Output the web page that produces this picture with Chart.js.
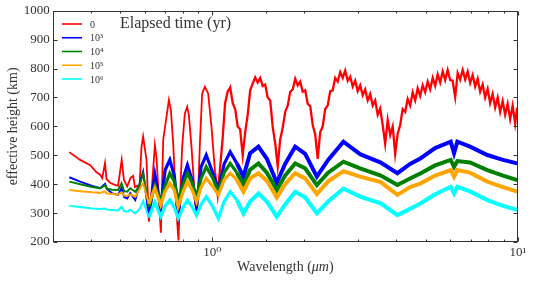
<!DOCTYPE html>
<html><head><meta charset="utf-8">
<script src="https://cdn.jsdelivr.net/npm/chart.js@4/dist/chart.umd.min.js"></script>
<style>html,body{margin:0;padding:0;background:#fff;}#wrap{position:relative;width:534px;height:281px;}</style>
</head><body><div id="wrap"><canvas id="c" width="534" height="281"></canvas></div>
<script>
// ---- data ----
const seriesLabels = ['0', '10\u00b3', '10\u2074', '10\u2075', '10\u2076'];
const seriesColors = ['#ff0000', '#0000ff', '#008000', '#ffa500', '#00ffff'];
const chartTitle = 'Elapsed time (yr)';
const yTitle = 'effective height (km)';
const yTickValues = [200, 300, 400, 500, 600, 700, 800, 900, 1000];

// red curve (elapsed time 0): wavelength (um) and effective height (km)
const wlRed = [0.340,0.369,0.398,0.4165,0.429,0.4357,0.445,0.450,0.4637,0.4816,0.491,0.5046,0.513,0.526,0.5392,0.5502,0.5573,0.5671,0.577,0.5857,
0.593,0.6083,0.6194,0.6317,0.648,0.6559,0.6679,0.678,0.6898,0.7072,0.7201,0.731,0.7438,0.7568,0.7683,0.7741,0.7823,0.7959,0.8122,0.8265,
0.8371,0.8537,0.8712,0.887,0.8979,0.9096,0.9254,0.9443,0.9681,0.9925,
1.020,1.040,1.060,1.080,1.100,1.121,1.143,1.165,1.187,1.209,1.232,1.256,1.280,1.304,1.329,1.354,1.380,1.406,1.433,1.460,
1.488,1.516,1.545,1.574,1.605,1.635,1.666,1.698,1.730,1.763,1.797,1.831,1.866,1.901,1.937,1.974,2.012,2.050,2.089,2.129,
2.169,2.210,2.252,2.295,2.339,2.383,2.429,2.475,2.522,2.570,2.619,2.669,2.719,2.771,2.824,2.878,2.932,2.988,3.045,3.103,
3.161,3.222,3.283,3.345,3.409,3.474,3.540,3.607,3.675,3.746,3.817,3.890,3.963,4.039,4.115,4.193,4.273,4.354,4.437,4.522,
4.608,4.695,4.785,4.876,4.968,5.062,5.159,5.257,5.357,5.459,5.563,5.669,5.776,5.886,5.998,6.112,6.228,6.347,6.467,6.590,
6.716,6.844,6.973,7.106,7.241,7.379,7.519,7.662,7.808,7.956,8.107,8.261,8.419,8.579,8.742,8.908,9.077,9.250,9.426,9.605,
9.788,9.94];
const hRed = [511,484,466,442,433,421,473,418,404,397,395,484,415,392,422,429,390,395,390,528,
565,484,270,372,535,493,345,232,553,633,691,657,542,369,253,205,340,530,645,668,
640,530,391,288,372,540,714,737,714,599,
440,365,460,560,680,720,735,680,660,600,590,500,580,640,725,748,770,752,768,740,
745,700,690,600,540,462,555,595,650,672,720,728,765,742,755,720,725,678,670,605,
572,488,580,600,660,672,722,725,768,755,788,768,793,758,772,738,758,722,742,708,
728,690,712,672,690,640,662,605,540,622,570,600,505,575,605,660,650,695,672,718,
690,732,705,742,718,755,728,768,740,780,752,790,760,795,760,758,702,785,762,795,
762,790,750,778,738,765,720,745,700,730,680,712,665,700,650,688,640,678,625,672,
610,665];

// the four later curves share one wavelength grid (um)
const wlLater = [0.340,0.369,0.404,0.429,0.445,0.452,0.470,0.491,0.504,0.514,0.526,0.538,0.559,0.579,0.593,0.619,0.648,0.677,0.700,0.725,
0.750,0.772,0.802,0.828,0.858,0.887,0.918,0.954,0.998,1.046,1.092,1.143,1.202,1.263,1.328,1.414,1.507,1.624,1.729,1.865,
2.011,2.196,2.391,2.683,3.042,3.556,4.030,4.434,4.806,5.353,6.024,6.176,6.330,6.966,7.935,8.932,9.948];
const h1e3 = [424,409,394,386,401,383,368,363,387,356,351,369,345,405,443,288,432,322,449,484,
430,299,420,466,414,322,460,501,445,380,470,512,472,426,507,530,488,405,470,530,
505,426,484,547,504,475,438,470,490,525,547,507,547,530,501,484,472];
const h1e4 = [409,400,390,386,396,384,381,380,403,376,374,386,374,400,438,322,395,340,395,438,
410,345,400,438,405,357,420,460,425,374,440,472,440,397,450,472,440,380,430,472,
455,397,440,478,455,430,397,420,438,465,484,460,480,475,449,430,414];
const h1e5 = [380,376,372,370,375,368,366,364,372,361,359,365,357,385,403,332,386,328,375,403,
380,322,375,409,380,339,390,420,395,363,415,438,415,374,420,438,412,354,400,438,
420,366,410,445,426,407,363,390,403,430,449,426,449,440,409,390,374];
const h1e6 = [325,321,316,314,316,312,311,309,322,307,305,312,299,316,342,285,338,288,325,345,
320,282,320,345,322,293,330,357,325,282,340,374,345,299,340,368,340,288,330,374,
355,299,340,385,357,334,293,315,334,365,391,368,391,375,345,325,311];

// ---- chart ----
const SERIF = "'Liberation Serif', 'DejaVu Serif', serif";
const TXT = '#333333';
const pts = (xs, ys) => xs.map((x, i) => ({x: x, y: ys[i]}));
const allH = [hRed, h1e3, h1e4, h1e5, h1e6];
const allW = [wlRed, wlLater, wlLater, wlLater, wlLater];

const widthRed = c => (c.p0.parsed.x > 1.0 ? 2.3 : 1.8);
const widthLater = c => (c.p0.parsed.x > 1.2 ? 4 : (c.p0.parsed.x > 0.6 ? 3.2 : 2));

const datasets = allH.map((h, i) => ({
  label: seriesLabels[i],
  data: pts(allW[i], h),
  borderColor: seriesColors[i],
  backgroundColor: seriesColors[i],
  borderWidth: 2,
  pointRadius: 0,
  tension: 0,
  order: 4 - i,
  segment: { borderWidth: i === 0 ? widthRed : widthLater }
}));

const isMajorX = v => Math.abs(v - 1) < 1e-9 || Math.abs(v - 10) < 1e-9;

const decor = {
  id: 'decor',
  afterDatasetsDraw(chart) {
    const {ctx, chartArea: a, scales} = chart;
    ctx.save();
    ctx.strokeStyle = '#333';
    ctx.lineWidth = 1;
    const L = Math.round(a.left) + 0.5, R = Math.round(a.right) - 0.5;
    const T = Math.round(a.top) + 0.5, B = Math.round(a.bottom) - 0.5;
    ctx.strokeRect(L, T, R - L, B - T);
    ctx.beginPath();
    scales.x.ticks.forEach(t => {
      const px = Math.round(scales.x.getPixelForValue(t.value)) + 0.5;
      const len = isMajorX(t.value) ? 4 : 2;
      ctx.moveTo(px, B); ctx.lineTo(px, B - len);
      ctx.moveTo(px, T); ctx.lineTo(px, T + len);
    });
    scales.y.ticks.forEach(t => {
      const py = Math.round(scales.y.getPixelForValue(t.value)) + 0.5;
      ctx.moveTo(L, py); ctx.lineTo(L + 4, py);
      ctx.moveTo(R, py); ctx.lineTo(R - 4, py);
    });
    ctx.stroke();
    ctx.fillStyle = TXT;
    ctx.textBaseline = 'middle';
    ctx.textAlign = 'left';
    ctx.font = '16px ' + SERIF;
    ctx.fillText(chartTitle, 120, 24);
    ctx.font = '10px ' + SERIF;
    chart.data.datasets.forEach((d, i) => {
      const y = 24 + i * 13.75;
      ctx.strokeStyle = d.borderColor;
      ctx.lineWidth = 1.6;
      ctx.beginPath(); ctx.moveTo(62, y); ctx.lineTo(82, y); ctx.stroke();
      ctx.fillStyle = TXT;
      ctx.fillText(d.label, 90, y + 1);
    });
    const parts = [['Wavelength (', ''], ['\u03bcm', 'italic '], [')', '']];
    let w = 0;
    parts.forEach(p => { ctx.font = p[1] + '14px ' + SERIF; w += ctx.measureText(p[0]).width; });
    let x = (a.left + a.right) / 2 - w / 2;
    parts.forEach(p => { ctx.font = p[1] + '14px ' + SERIF; ctx.fillText(p[0], x, 267); x += ctx.measureText(p[0]).width; });
    ctx.restore();
  }
};

new Chart(document.getElementById('c'), {
  type: 'line',
  data: { datasets },
  options: {
    responsive: false,
    devicePixelRatio: 1,
    animation: false,
    events: [],
    layout: { padding: { top: 10.7, right: 16, left: 0, bottom: 0 } },
    plugins: { legend: { display: false }, tooltip: { enabled: false }, title: { display: false } },
    scales: {
      x: {
        type: 'logarithmic', min: 0.3, max: 10,
        grid: { display: false, drawTicks: false },
        border: { display: false },
        ticks: {
          autoSkip: false, maxRotation: 0, padding: 3, color: TXT,
          font: { family: SERIF, size: 13 },
          callback: v => (Math.abs(v - 1) < 1e-9 ? '10\u2070' : (Math.abs(v - 10) < 1e-9 ? '10\u00b9' : ''))
        },
        afterFit: s => { s.height = 39; }
      },
      y: {
        type: 'linear', min: 200, max: 1000,
        grid: { display: false, drawTicks: false },
        border: { display: false },
        afterBuildTicks: s => { s.ticks = yTickValues.map(v => ({ value: v })); },
        ticks: { padding: 3, color: TXT, font: { family: SERIF, size: 13 }, callback: v => String(v) },
        title: { display: true, text: yTitle, color: TXT, font: { family: SERIF, size: 14 }, padding: { top: 5, bottom: 0 } },
        afterFit: s => { s.width = 52.7; }
      }
    }
  },
  plugins: [decor]
});
</script>
</body></html>
